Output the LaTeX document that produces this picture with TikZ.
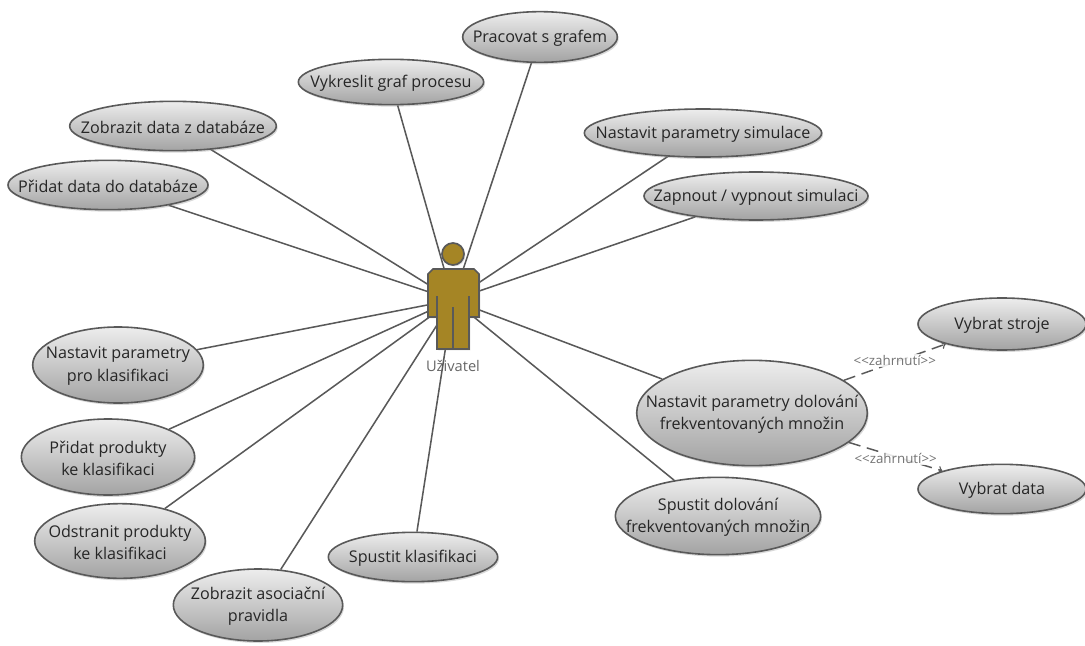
\documentclass[tikz,border=0pt]{standalone}
\usepackage{fontspec}
\setmainfont{Open Sans}
\usetikzlibrary{shapes.geometric,arrows,positioning,shadows,backgrounds}
\definecolor{usecasetop}{HTML}{EDEDED}
\definecolor{usecasebottom}{HTML}{A3A3A3}
\definecolor{linegray}{HTML}{595959}
\definecolor{actorgold}{HTML}{A58525}
\tikzset{
  usecase/.style={ellipse,draw=linegray,line width=1.2pt,top color=usecasetop,bottom color=usecasebottom,
    drop shadow={shadow xshift=1pt,shadow yshift=-1.5pt,opacity=0.3},inner sep=0pt},
  usetext/.style={align=center,text=black!85,inner sep=0pt,yshift=-1pt,font=\fontsize{12.1}{17}\selectfont},
  assoc/.style={draw=linegray,line width=1.15pt},
  incl/.style={draw=linegray,line width=1.1pt,dash pattern=on 9pt off 5pt,->},
  incllabel/.style={fill=white,fill opacity=0.85,text opacity=1,text=black!55,inner sep=1pt,font=\fontsize{10}{11}\selectfont},
  actorpart/.style={draw=linegray,line width=1.3pt,fill=actorgold}
}
\begin{document}
\begin{tikzpicture}[x=0.75pt,y=-0.75pt]
\useasboundingbox (0,0) rectangle (1085,646);
\node[usecase,minimum width=116pt,minimum height=38pt,label={[usetext]center:Pracovat s grafem}] (grafem) at (540,37) {};
\node[usecase,minimum width=139pt,minimum height=34pt,label={[usetext]center:Vykreslit graf procesu}] (proces) at (391,82) {};
\node[usecase,minimum width=155pt,minimum height=37pt,label={[usetext]center:Zobrazit data z databáze}] (zobrazit) at (173,126) {};
\node[usecase,minimum width=150pt,minimum height=37pt,label={[usetext]center:Přidat data do databáze}] (pridat) at (108,185) {};
\node[usecase,minimum width=178pt,minimum height=36pt,label={[usetext]center:Nastavit parametry simulace}] (simulace) at (703,133) {};
\node[usecase,minimum width=168pt,minimum height=36pt,label={[usetext]center:Zapnout / vypnout simulaci}] (zapnout) at (756,196) {};
\node[usecase,minimum width=128pt,minimum height=57pt,label={[usetext]center:Nastavit parametry\\pro klasifikaci}] (parametry) at (118,365) {};
\node[usecase,minimum width=130pt,minimum height=57pt,label={[usetext]center:Přidat produkty\\ke klasifikaci}] (produkty) at (108,457) {};
\node[usecase,minimum width=128pt,minimum height=56pt,label={[usetext]center:Odstranit produkty\\ke klasifikaci}] (odstranit) at (120,541) {};
\node[usecase,minimum width=127pt,minimum height=54pt,label={[usetext]center:Zobrazit asociační\\pravidla}] (pravidla) at (258,605) {};
\node[usecase,minimum width=127pt,minimum height=37pt,label={[usetext]center:Spustit klasifikaci}] (klasifikace) at (413,557) {};
\node[usecase,minimum width=154pt,minimum height=58pt,label={[usetext]center:Spustit dolování\\frekventovaných množin}] (spustit) at (718,516) {};
\node[usecase,minimum width=173pt,minimum height=79pt,label={[usetext]center:Nastavit parametry dolování\\frekventovaných množin}] (dolovani) at (752,413) {};
\node[usecase,minimum width=126pt,minimum height=39pt,label={[usetext]center:Vybrat stroje}] (stroje) at (1002,324) {};
\node[usecase,minimum width=126pt,minimum height=37pt,label={[usetext]center:Vybrat data}] (data) at (1002,489) {};

% actor
\coordinate (uzivatel) at (453,300);
\node[circle,actorpart,minimum size=16.5pt,inner sep=0pt,drop shadow={shadow xshift=1pt,shadow yshift=-1pt,opacity=0.25}] (hlava) at (453,254) {};
\draw[actorpart,drop shadow={shadow xshift=1pt,shadow yshift=-1pt,opacity=0.25}] (433,269) -- (474,269) -- (479,274) -- (479,317) -- (469,317) -- (469,349) -- (437,349) -- (437,317) -- (428,317) -- (428,274) -- cycle;
\draw[draw=linegray,line width=1.2pt] (437,296) -- (437,317);
\draw[draw=linegray,line width=1.2pt] (469,296) -- (469,317);
\draw[draw=linegray,line width=1.2pt] (453,307) -- (453,349);
\node[text=black!60,font=\fontsize{11}{12}\selectfont,inner sep=0pt] (jmeno) at (453,366) {Uživatel};

\begin{scope}[on background layer]
\foreach \target in {grafem,proces,zobrazit,pridat,simulace,zapnout,parametry,produkty,odstranit,pravidla,klasifikace,spustit,dolovani}
  \draw[assoc] (uzivatel) -- (\target);
\end{scope}

\draw[incl] (dolovani) -- (stroje) node[pos=0.5,incllabel,yshift=1pt] (zahrnuti1) {<{}<zahrnutí>{}>};
\draw[incl] (dolovani) -- (data) node[pos=0.5,incllabel,yshift=-1pt] (zahrnuti2) {<{}<zahrnutí>{}>};
\end{tikzpicture}
\end{document}
